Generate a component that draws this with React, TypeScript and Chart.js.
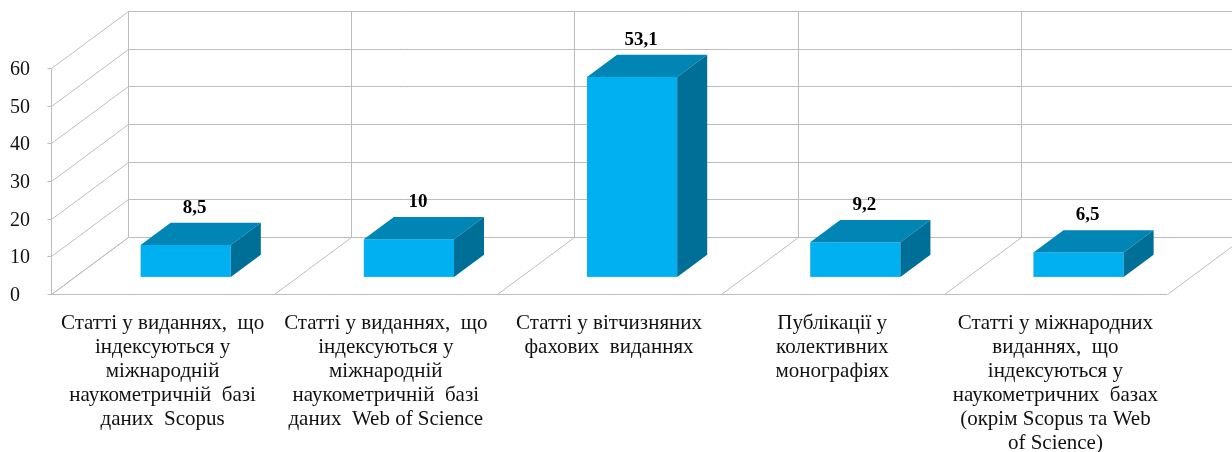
import React, { useEffect, useRef } from "react";
import { Chart, registerables } from "chart.js";

Chart.register(...registerables);

// ---- data ----
const CATEGORIES: string[][] = [
  ["Статті у виданнях,  що", "індексуються у", "міжнародній", "наукометричній  базі", "даних  Scopus"],
  ["Статті у виданнях,  що", "індексуються у", "міжнародній", "наукометричній  базі", "даних  Web of Science"],
  ["Статті у вітчизняних", "фахових  виданнях"],
  ["Публікації у", "колективних", "монографіях"],
  ["Статті у міжнародних", "виданнях,  що", "індексуються у", "наукометричних  базах", "(окрім Scopus та Web", "of Science)"],
];
const VALUES: number[] = [8.5, 10, 53.1, 9.2, 6.5];
const VALUE_LABELS: string[] = ["8,5", "10", "53,1", "9,2", "6,5"];
const Y_MIN = 0;
const Y_MAX = 60;
const Y_STEP = 10;

// ---- style ----
const FRONT_COLOR = "#00B0F0";
const TOP_COLOR = "#0085B5";
const SIDE_COLOR = "#006F97";
const GRID_COLOR = "#bdbdbd";
const TEXT_COLOR = "#111111";
const SERIF = '"Liberation Serif", "Times New Roman", serif';
const DEPTH_DX = 77; // oblique depth of the floor
const DEPTH_DY = -57;
const BAR_FRONT = 0.3; // depth fraction of bar front
const BAR_BACK = 0.69; // depth fraction of bar back

function line(ctx: CanvasRenderingContext2D, x1: number, y1: number, x2: number, y2: number) {
  ctx.beginPath();
  ctx.moveTo(x1, y1);
  ctx.lineTo(x2, y2);
  ctx.stroke();
}

const bar3dPlugin = {
  id: "bar3d",
  beforeDatasetsDraw(chart: any) {
    const { ctx, chartArea: a, scales } = chart;
    const xs = scales.x;
    const ys = scales.y;
    const n = chart.data.labels.length;
    const y0 = Math.round(ys.getPixelForValue(Y_MIN)) + 0.5;
    const yTop = Math.round(ys.getPixelForValue(Y_MAX)) + 0.5;
    const left = Math.round(a.left) + 0.5;
    const rightEdge = xs.getPixelForValue(n - 0.5);
    ctx.save();
    ctx.strokeStyle = GRID_COLOR;
    ctx.lineWidth = 1;
    const ticks = ys.ticks && ys.ticks.length ? ys.ticks.map((t: any) => t.value) : [];
    // left wall diagonals + back wall horizontals
    ticks.forEach((v: number) => {
      const py = Math.round(ys.getPixelForValue(v)) + 0.5;
      line(ctx, left, py, left + DEPTH_DX, py + DEPTH_DY);
      line(ctx, left + DEPTH_DX, py + DEPTH_DY, rightEdge + DEPTH_DX, py + DEPTH_DY);
      // tick marks
      line(ctx, left - 4, py, left, py);
    });
    // back wall verticals & floor diagonals at category boundaries
    for (let k = 0; k <= n; k++) {
      const bx = Math.round(xs.getPixelForValue(k - 0.5)) + 0.5;
      line(ctx, bx + DEPTH_DX, yTop + DEPTH_DY, bx + DEPTH_DX, y0 + DEPTH_DY);
      line(ctx, bx, y0, bx + DEPTH_DX, y0 + DEPTH_DY);
    }
    // floor front edge and front axis
    line(ctx, left, y0, rightEdge, y0);
    line(ctx, left, yTop, left, y0);

    // y tick labels
    ctx.fillStyle = TEXT_COLOR;
    ctx.font = `20px ${SERIF}`;
    ctx.textAlign = "left";
    ctx.textBaseline = "alphabetic";
    ys.ticks.forEach((t: any) => {
      const py = ys.getPixelForValue(t.value);
      ctx.fillText(String(t.value), 10, py + 7);
    });

    // category labels
    ctx.font = `21px ${SERIF}`;
    ctx.textAlign = "center";
    const labels = chart.data.labels as string[][];
    labels.forEach((lines, i) => {
      const cx = xs.getPixelForValue(i);
      lines.forEach((ln, j) => {
        ctx.fillText(ln, cx, y0 + 34 + j * 24);
      });
    });
    ctx.restore();
  },
  afterDatasetsDraw(chart: any) {
    const { ctx, scales } = chart;
    const ys = scales.y;
    const meta = chart.getDatasetMeta(0);
    const ox = BAR_FRONT * DEPTH_DX;
    const oy = BAR_FRONT * DEPTH_DY;
    const ddx = (BAR_BACK - BAR_FRONT) * DEPTH_DX;
    const ddy = (BAR_BACK - BAR_FRONT) * DEPTH_DY;
    const data = chart.data.datasets[0].data as number[];
    ctx.save();
    meta.data.forEach((el: any, i: number) => {
      const half = el.width / 2;
      const L = el.x - half + ox;
      const R = el.x + half + ox;
      const T = ys.getPixelForValue(data[i]) + oy;
      const B = ys.getPixelForValue(Y_MIN) + oy;
      // front
      ctx.fillStyle = FRONT_COLOR;
      ctx.fillRect(L, T, R - L, B - T);
      // top
      ctx.fillStyle = TOP_COLOR;
      ctx.beginPath();
      ctx.moveTo(L, T);
      ctx.lineTo(R, T);
      ctx.lineTo(R + ddx, T + ddy);
      ctx.lineTo(L + ddx, T + ddy);
      ctx.closePath();
      ctx.fill();
      // side
      ctx.fillStyle = SIDE_COLOR;
      ctx.beginPath();
      ctx.moveTo(R, T);
      ctx.lineTo(R + ddx, T + ddy);
      ctx.lineTo(R + ddx, B + ddy);
      ctx.lineTo(R, B);
      ctx.closePath();
      ctx.fill();
      // value label
      ctx.fillStyle = "#000";
      ctx.font = `bold 19px ${SERIF}`;
      ctx.textAlign = "center";
      ctx.textBaseline = "alphabetic";
      ctx.fillText(VALUE_LABELS[i], el.x + ox + ddx * 0.3, T + ddy - 10);
    });
    ctx.restore();
  },
};

export default function App() {
  const ref = useRef<HTMLCanvasElement | null>(null);
  useEffect(() => {
    document.body.style.margin = "0";
    if (!ref.current) return;
    const chart = new Chart(ref.current, {
      type: "bar",
      data: {
        labels: CATEGORIES as any,
        datasets: [
          {
            data: VALUES,
            backgroundColor: "rgba(0,0,0,0)",
            borderWidth: 0,
            barPercentage: 0.404,
            categoryPercentage: 1,
          },
        ],
      },
      options: {
        animation: false,
        responsive: true,
        maintainAspectRatio: false,
        layout: { padding: { left: 51, right: 65, top: 68, bottom: 158 } },
        plugins: { legend: { display: false }, tooltip: { enabled: false } },
        scales: {
          x: { type: "category", display: false, offset: true },
          y: { type: "linear", display: false, min: Y_MIN, max: Y_MAX, ticks: { stepSize: Y_STEP } },
        },
      },
      plugins: [bar3dPlugin],
    });
    return () => chart.destroy();
  }, []);
  return (
    <div style={{ width: 1232, height: 452, position: "relative" }}>
      <canvas ref={ref} />
    </div>
  );
}
